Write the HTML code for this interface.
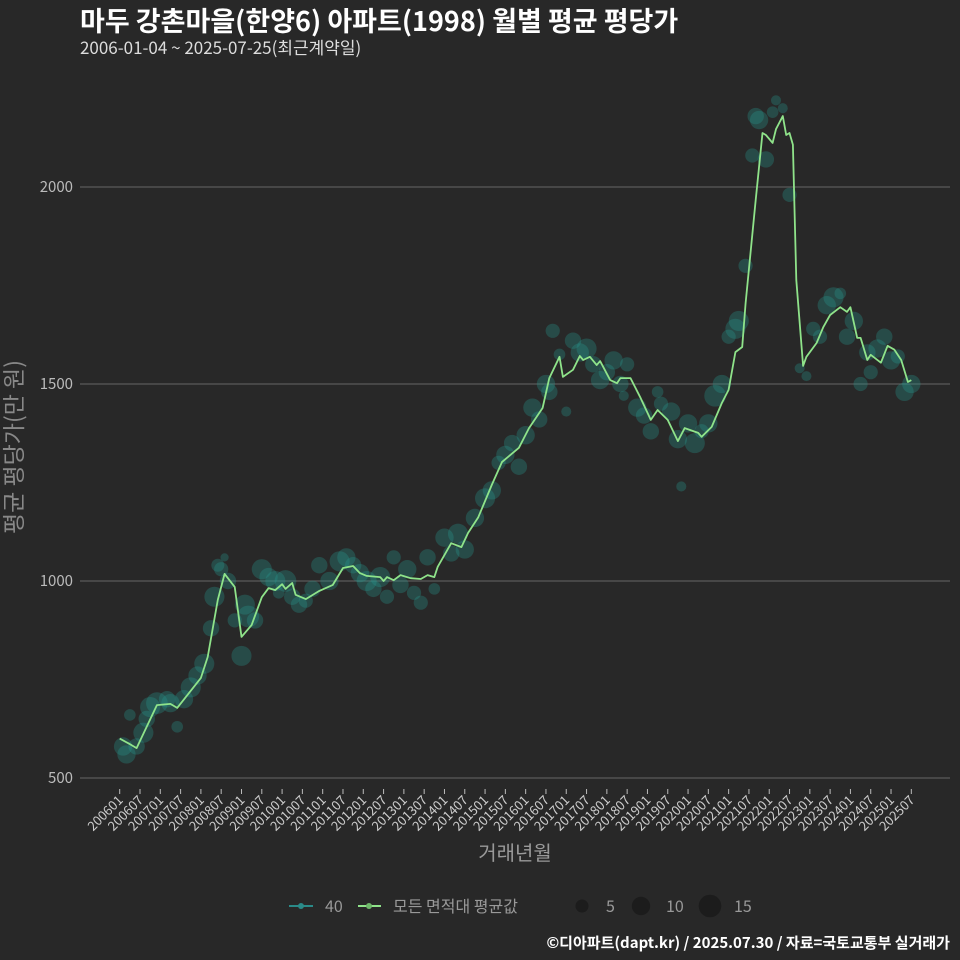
<!DOCTYPE html>
<html><head><meta charset="utf-8"><style>
body{margin:0;background:#282828;}
svg{display:block;font-family:"Noto Sans CJK KR","Liberation Sans",sans-serif;}
</style></head><body>
<svg id="chart" width="960" height="960" viewBox="0 0 960 960">
<rect width="960" height="960" fill="#282828"/>
<text x="80" y="31" fill="#fff" font-size="27" font-weight="bold">마두 강촌마을(한양6) 아파트(1998) 월별 평균 평당가</text>
<text x="80" y="54" fill="#ddd" font-size="17">2006-01-04 ~ 2025-07-25(최근계약일)</text>
<g id="grid"></g>
<g id="bubbles"></g>
<g id="line"></g>
<g id="xaxis"></g>
<text x="22" y="447" fill="#888" font-size="23" text-anchor="middle" transform="rotate(-90 22 447)">평균 평당가(만 원)</text>
<text x="515" y="860" fill="#999" font-size="20" text-anchor="middle">거래년월</text>
<g>
<g><line x1="289" y1="906" x2="313" y2="906" stroke="#2a8a88" stroke-width="2"/><circle cx="301" cy="906" r="3" fill="#2a8a88"/><text x="325" y="912" fill="#999" font-size="16">40</text></g>
<g><line x1="358" y1="906" x2="381" y2="906" stroke="#8fe38a" stroke-width="2"/><circle cx="369" cy="906" r="3" fill="#6fb86a"/><text x="393" y="912" fill="#999" font-size="16">모든 면적대 평균값</text></g>
<g><circle cx="582" cy="906" r="6.5" fill="#1c1c1c"/><text x="606" y="912" fill="#999" font-size="16">5</text></g>
<g><circle cx="641" cy="906" r="9.2" fill="#1c1c1c"/><text x="666" y="912" fill="#999" font-size="16">10</text></g>
<g><circle cx="710" cy="906" r="11.3" fill="#1c1c1c"/><text x="734" y="912" fill="#999" font-size="16">15</text></g>
</g>
<text x="950" y="948" fill="#fff" font-size="15" font-weight="bold" text-anchor="end">©디아파트(dapt.kr) / 2025.07.30 / 자료=국토교통부 실거래가</text>
</svg>
<script>
// months since 2006-01, and average values
const lineMonths=[0,3,5,11,15,17,24,26,29,31,34,36,39,42,44,46,48,49,51,52,55,59,63,66,69,71,73,77,78,79,81,83,86,89,91,93,94,98,101,103,106,110,113,118,121,125,127,130,131,134,136,137,139,141,142,145,147,148,151,154,157,159,162,165,167,171,172,175,178,180,182,184,185,188,190,191,193,194,196,197,198,199,200,202,203,206,208,210,213,215,216,218,219,221,222,225,227,229,231,233,234];
const lineValues=[600,586,576,685,688,678,754,807,952,1018,985,858,888,959,982,977,992,980,995,965,954,975,990,1033,1038,1020,1013,1010,1000,1010,1002,1015,1007,1005,1015,1010,1036,1096,1086,1122,1162,1244,1302,1338,1388,1439,1515,1569,1518,1536,1571,1561,1569,1548,1558,1510,1502,1515,1515,1464,1409,1434,1409,1355,1388,1376,1366,1391,1452,1485,1581,1594,1705,1967,2137,2132,2112,2147,2180,2132,2137,2107,1764,1546,1569,1604,1645,1675,1695,1683,1695,1617,1617,1561,1574,1554,1597,1587,1561,1505,1510];
const bubbleMonths=[1,2,3,5,7,8,9,11,14,15,17,19,21,23,25,27,28,29,30,31,32,34,36,37,38,40,42,44,46,47,49,51,53,55,57,59,62,65,67,69,71,73,75,77,79,81,83,85,87,89,91,93,96,98,100,102,105,108,110,112,114,116,118,120,122,124,126,127,128,130,132,134,136,138,140,142,144,146,148,149,150,153,155,157,159,160,163,165,166,168,170,172,174,176,178,180,182,183,185,187,188,189,191,193,194,196,198,201,203,205,207,209,211,213,215,217,219,221,222,224,226,228,230,232,234];
const bubbleValues=[580,560,660,580,615,650,680,690,700,690,630,700,730,760,790,880,960,1040,1030,1060,1000,900,810,940,910,900,1030,1010,1000,970,1000,960,940,950,980,1040,1000,1050,1060,1040,1020,1000,980,1010,960,1060,990,1030,970,945,1060,980,1110,1070,1120,1080,1160,1210,1230,1300,1320,1350,1290,1370,1440,1410,1500,1480,1635,1575,1430,1610,1580,1590,1550,1510,1530,1560,1500,1470,1550,1440,1420,1380,1480,1450,1430,1360,1240,1400,1350,1380,1400,1470,1500,1620,1640,1660,1800,2080,2180,2170,2070,2190,2220,2200,1980,1540,1520,1640,1620,1700,1720,1730,1620,1660,1500,1580,1530,1590,1620,1560,1570,1480,1500];
const bubbleCounts=[10,10,4,8,12,8,12,14,8,10,4,10,12,10,12,8,12,5,6,2,8,6,12,12,14,8,12,10,12,4,14,8,8,6,8,8,10,12,10,8,10,12,8,12,6,6,8,10,6,6,8,4,10,8,12,10,10,12,10,6,10,8,8,10,10,8,10,8,6,4,3,8,10,12,8,10,8,10,8,3,6,10,8,8,4,6,10,10,3,10,12,6,10,14,10,6,12,12,6,6,8,10,8,4,3,3,6,3,3,6,6,10,12,4,8,10,6,8,6,10,8,10,6,10,10];
const yTicks=[500,1000,1500,2000];
const xTickLabels=[];
for(let y=2006;y<=2025;y++){xTickLabels.push(y+"01");xTickLabels.push(y+"07");}

const NS="http://www.w3.org/2000/svg";
const xScale=m=>119.7+m*3.383;
const yScale=v=>778-(v-500)*0.394;
const rScale=s=>2.9*Math.sqrt(s);
function mk(tag,attrs,parent){const e=document.createElementNS(NS,tag);for(const k in attrs)e.setAttribute(k,attrs[k]);parent.appendChild(e);return e;}

const grid=document.getElementById('grid');
yTicks.forEach(v=>{
  const y=yScale(v);
  const l=mk('line',{x1:80,x2:950,y1:y,y2:y,stroke:'#666','stroke-width':1},grid);
  
  
  const t=mk('text',{x:73,y:y+5,fill:'#bbb','font-size':15,'text-anchor':'end'},grid);
  t.textContent=v;
  
  
});

const bg=document.getElementById('bubbles');
bubbleMonths.forEach((m,i)=>{
  const c=mk('circle',{cx:xScale(m),cy:yScale(bubbleValues[i]),r:rScale(bubbleCounts[i]),fill:'rgba(40,150,140,0.33)'},bg);
  
  
});

const lg=document.getElementById('line');
const d=lineMonths.map((m,i)=>(i?'L':'M')+xScale(m).toFixed(1)+' '+yScale(lineValues[i]).toFixed(1)).join(' ');
const p=mk('path',{d:d,fill:'none',stroke:'#8fe38a','stroke-width':1.8,'stroke-linejoin':'round'},lg);



const xa=document.getElementById('xaxis');
xTickLabels.forEach((lab,i)=>{
  const x=xScale(i*6);
  const l=mk('line',{x1:x,x2:x,y1:789,y2:794,stroke:'#bbb','stroke-width':1},xa);
  
  
  const t=mk('text',{x:x+4,y:801,fill:'#ccc','font-size':13,'text-anchor':'end',transform:'rotate(-45 '+(x+4)+' 801)'},xa);
  t.textContent=lab;
  
  
});
</script>
</body></html>
